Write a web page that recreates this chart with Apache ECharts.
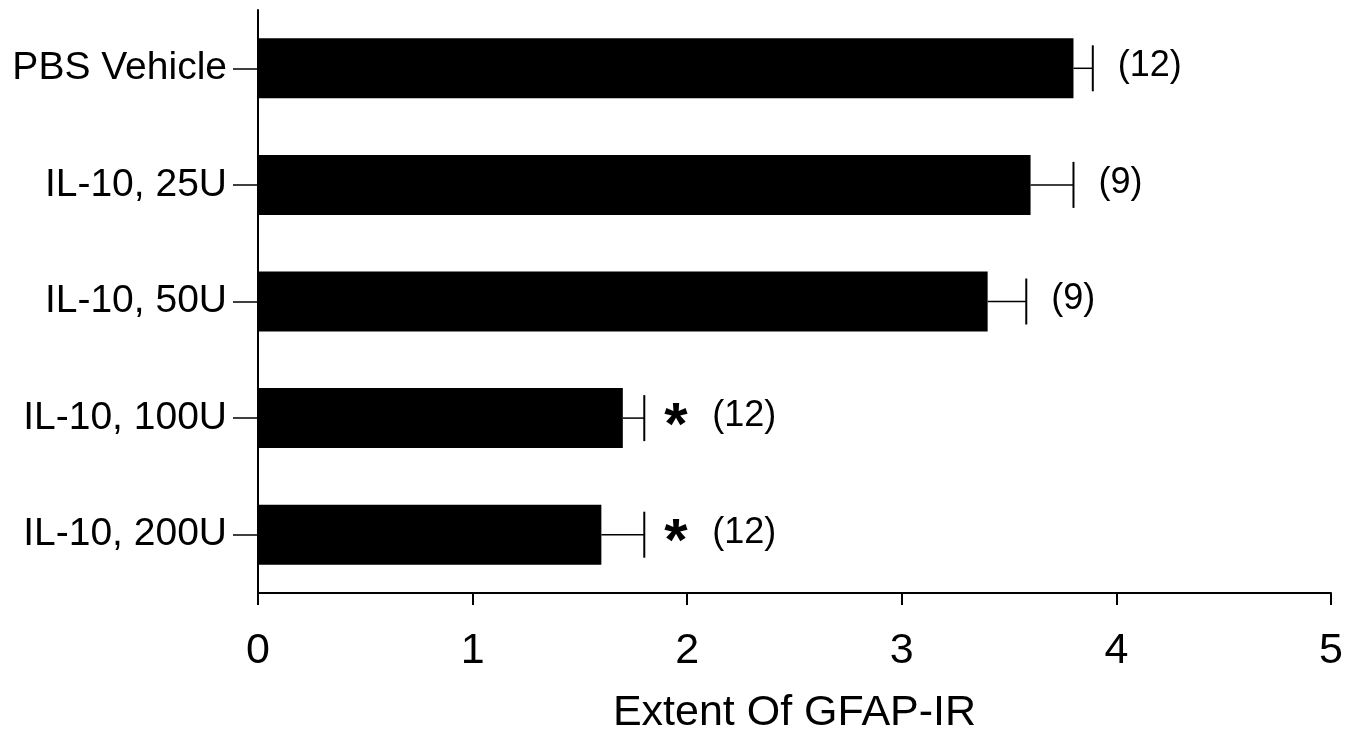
<!DOCTYPE html>
<html>
<head>
<meta charset="utf-8">
<script src="https://cdn.jsdelivr.net/npm/echarts@6/dist/echarts.min.js"></script>
<style>
  html, body { margin: 0; padding: 0; background: #fff; }
  #chart { width: 1356px; height: 731px; }
</style>
</head>
<body>
<div id="chart"></div>
<script>
// Groupes de traitement (de haut en bas)
const groups = ['PBS Vehicle', 'IL-10, 25U', 'IL-10, 50U', 'IL-10, 100U', 'IL-10, 200U'];
// Moyennes et bornes supérieures des barres d'erreur
const means = [3.80, 3.60, 3.40, 1.70, 1.60];
const upper = [3.89, 3.80, 3.58, 1.80, 1.80];
// Effectifs et significativité
const counts = [12, 9, 9, 12, 12];
const significant = [false, false, false, true, true];
const xTicks = [0, 1, 2, 3, 4, 5];

const fontFamily = '"Liberation Sans", Arial, Helvetica, sans-serif';

document.addEventListener('DOMContentLoaded', function() {
    const chart = echarts.init(document.getElementById('chart'));

    const errorData = groups.map((g, i) => [i, means[i], upper[i]]);

    // Barre d'erreur + annotations
    function renderError(params, api) {
        const i = params.dataIndex;
        const start = api.coord([api.value(1), api.value(0)]);
        const end = api.coord([api.value(2), api.value(0)]);
        const half = 23;
        const children = [
            { type: 'line', shape: { x1: start[0], y1: start[1], x2: end[0], y2: end[1] },
              style: { stroke: '#000', lineWidth: 1.5 } },
            { type: 'line', shape: { x1: end[0], y1: end[1] - half, x2: end[0], y2: end[1] + half },
              style: { stroke: '#000', lineWidth: 2 } }
        ];
        let textX = end[0] + 25;
        if (significant[i]) {
            children.push({
                type: 'text', x: end[0] + 20, y: end[1] + 9,
                style: { text: '*', fontSize: 60, fontWeight: 'bold', fontFamily: fontFamily,
                         fill: '#000', align: 'left', verticalAlign: 'middle' }
            });
            textX = end[0] + 68;
        }
        children.push({
            type: 'text', x: textX, y: end[1] - 2,
            style: { text: '(' + counts[i] + ')', fontSize: 36, fontFamily: fontFamily,
                     fill: '#000', align: 'left', verticalAlign: 'middle' }
        });
        return { type: 'group', children: children };
    }

    const option = {
        backgroundColor: '#fff',
        animation: false,
        grid: { left: 258, right: 25, top: 10, bottom: 138, containLabel: false, outerBoundsMode: 'none' },
        xAxis: {
            type: 'value',
            min: xTicks[0],
            max: xTicks[xTicks.length - 1],
            interval: 1,
            name: 'Extent Of GFAP-IR',
            nameLocation: 'middle',
            nameGap: 99,
            nameTextStyle: { color: '#000', fontSize: 43, fontFamily: fontFamily },
            axisLine: { show: true, lineStyle: { color: '#000', width: 2 } },
            axisTick: { show: true, length: 12, lineStyle: { color: '#000', width: 2 } },
            axisLabel: { color: '#000', fontSize: 43, fontFamily: fontFamily, margin: 37 },
            splitLine: { show: false }
        },
        yAxis: {
            type: 'category',
            data: groups,
            inverse: true,
            axisLine: { show: true, lineStyle: { color: '#000', width: 2 } },
            axisTick: { show: true, length: 25, alignWithLabel: true, lineStyle: { color: '#000', width: 1.5 } },
            axisLabel: { color: '#000', fontSize: 39, fontFamily: fontFamily, margin: 31 },
            splitLine: { show: false }
        },
        series: [
            {
                type: 'bar',
                data: means,
                barWidth: 60,
                itemStyle: { color: '#000' },
                z: 2
            },
            {
                type: 'custom',
                data: errorData,
                encode: { x: [1, 2], y: 0 },
                renderItem: renderError,
                clip: false,
                z: 3
            }
        ]
    };

    chart.setOption(option);
});
</script>
</body>
</html>
